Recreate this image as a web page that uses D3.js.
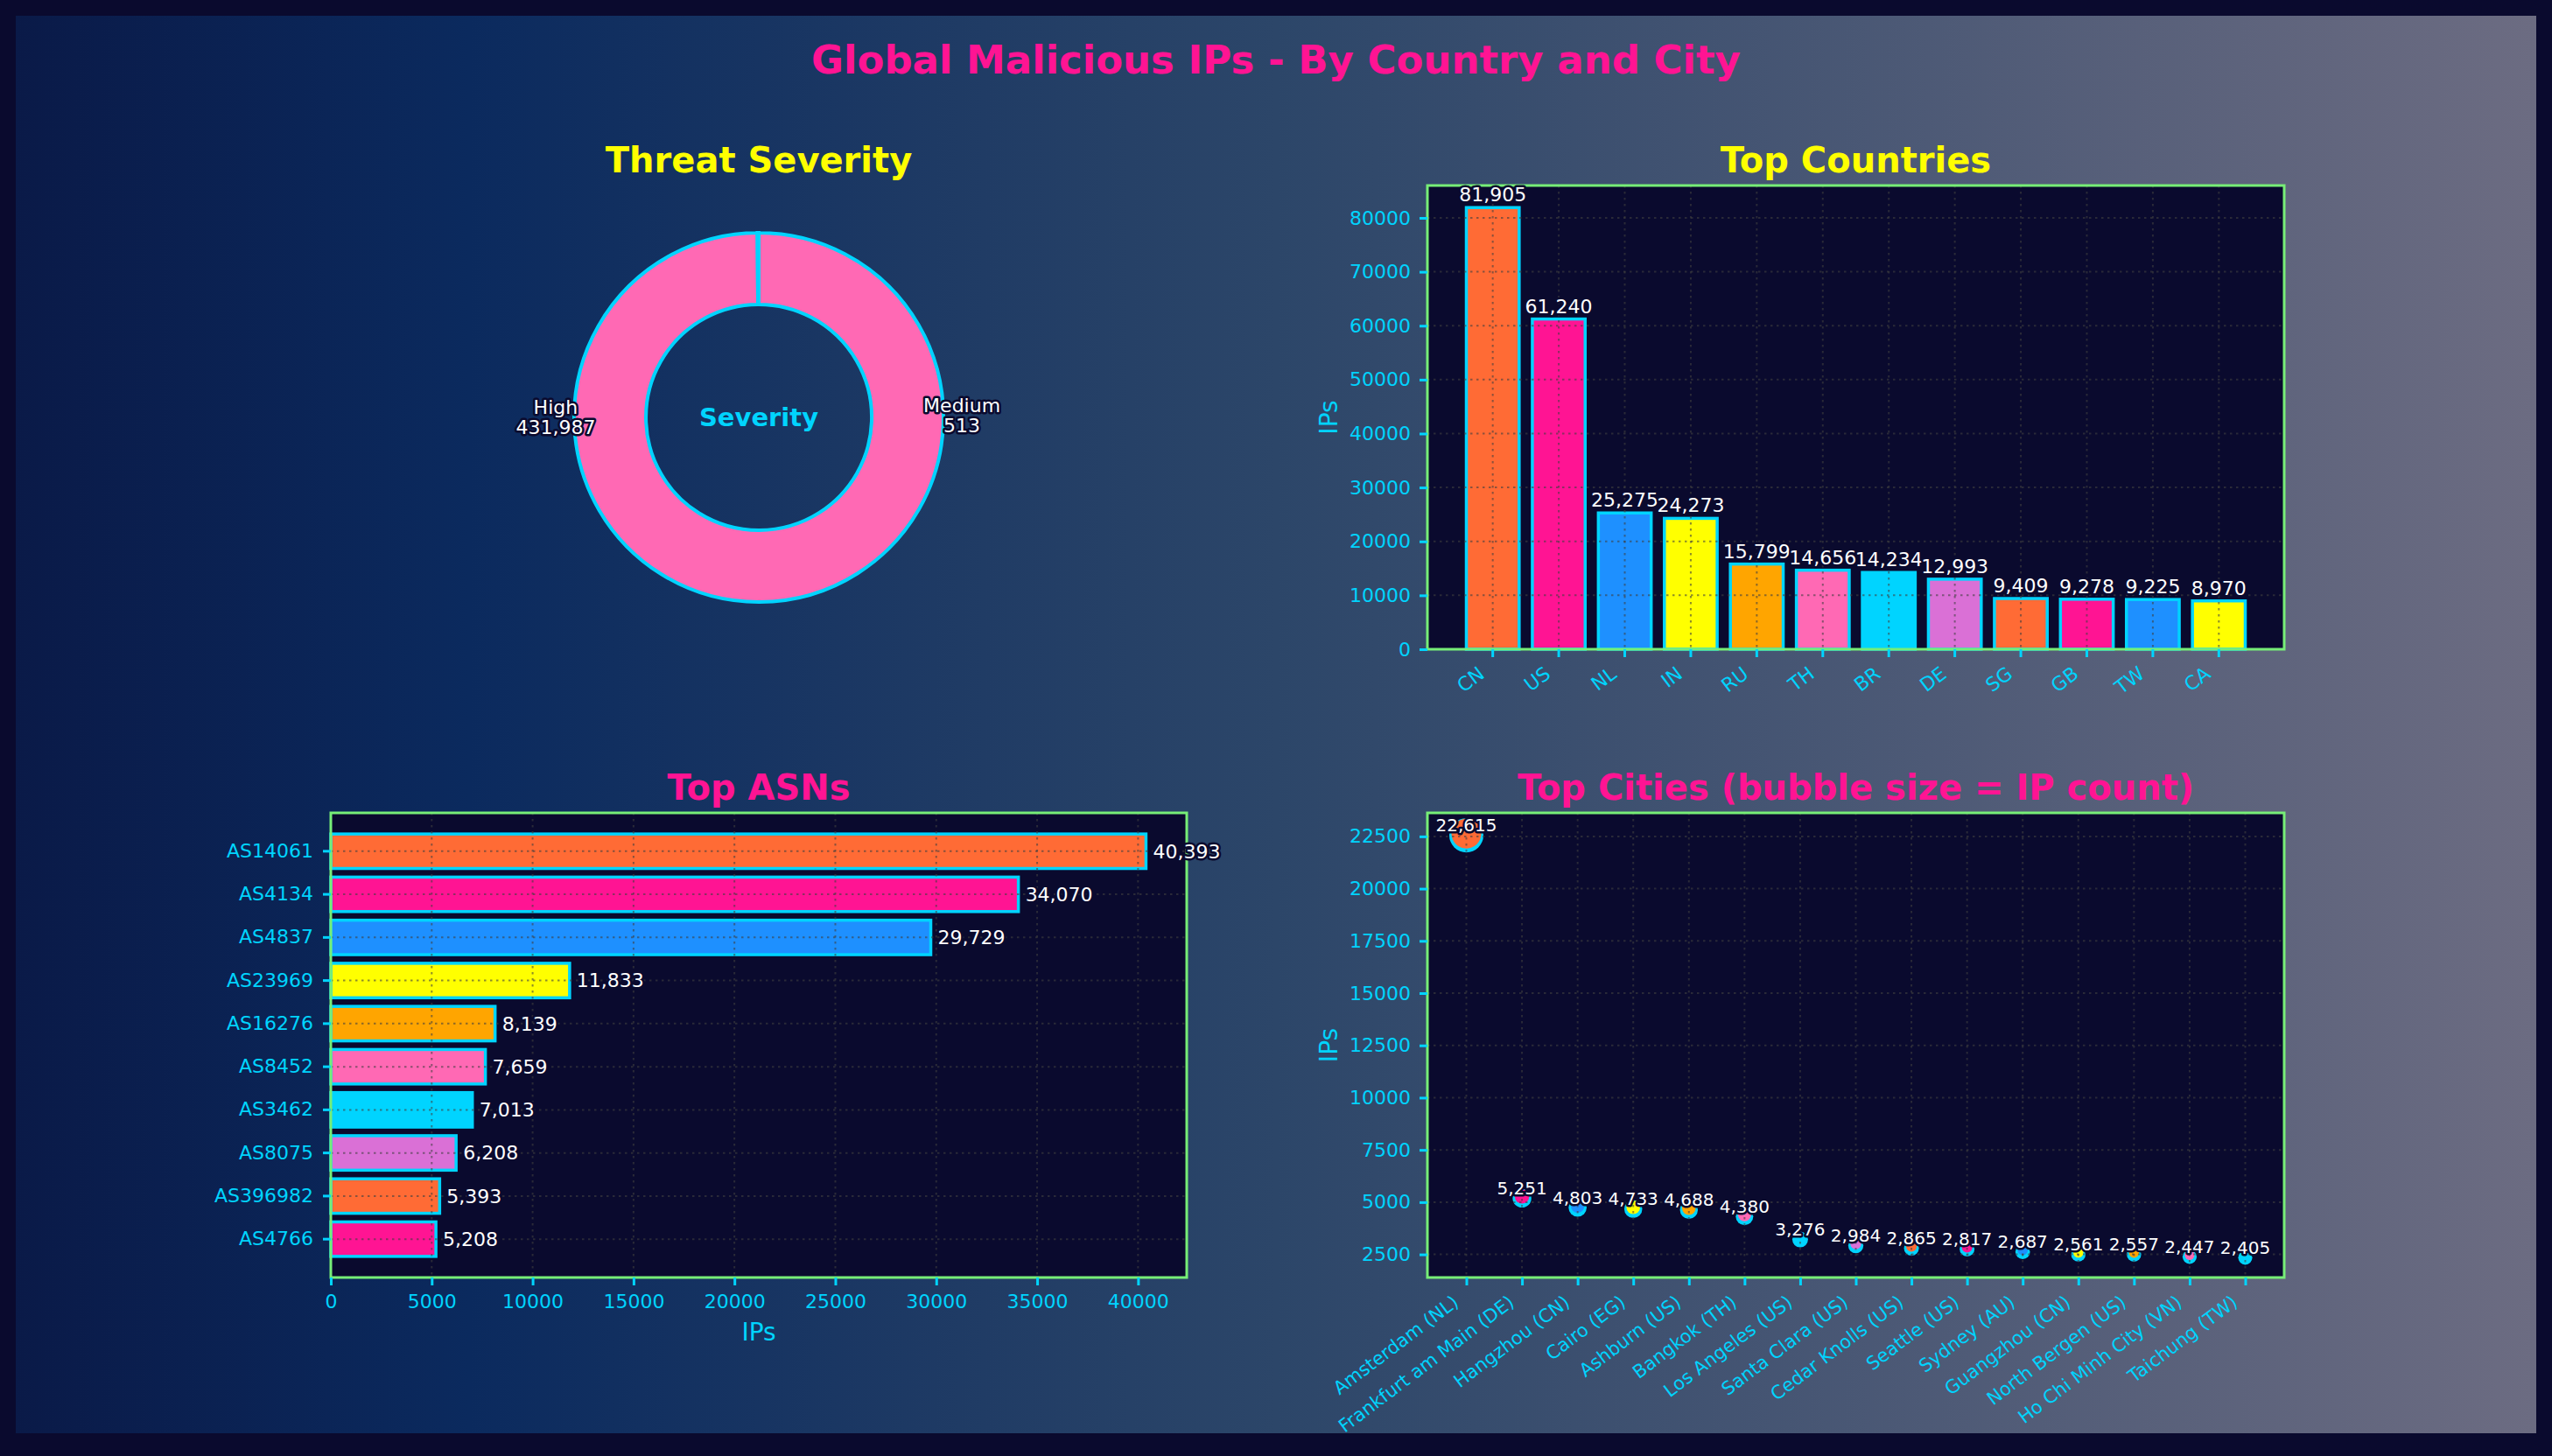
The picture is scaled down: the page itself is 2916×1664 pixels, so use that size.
<!DOCTYPE html>
<html>
<head>
<meta charset="utf-8">
<script src="https://cdn.jsdelivr.net/npm/d3@7"></script>
<style>
  body { margin: 0; background: #0a0a2e; }
  svg { display: block; }
</style>
</head>
<body>
<svg id="chart" width="2916" height="1664"></svg>
<script>
// ---- data ----
var severityLabels = ["High", "Medium"];
var severityValues = [431987, 513];
var severityColors = ["#ff69b4", "#ffa500"];

var countries = ["CN", "US", "NL", "IN", "RU", "TH", "BR", "DE", "SG", "GB", "TW", "CA"];
var countryIPs = [81905, 61240, 25275, 24273, 15799, 14656, 14234, 12993, 9409, 9278, 9225, 8970];
var countryTicks = [0, 10000, 20000, 30000, 40000, 50000, 60000, 70000, 80000];

var asns = ["AS14061", "AS4134", "AS4837", "AS23969", "AS16276", "AS8452", "AS3462", "AS8075", "AS396982", "AS4766"];
var asnIPs = [40393, 34070, 29729, 11833, 8139, 7659, 7013, 6208, 5393, 5208];
var asnTicks = [0, 5000, 10000, 15000, 20000, 25000, 30000, 35000, 40000];

var cities = ["Amsterdam (NL)", "Frankfurt am Main (DE)", "Hangzhou (CN)", "Cairo (EG)", "Ashburn (US)",
  "Bangkok (TH)", "Los Angeles (US)", "Santa Clara (US)", "Cedar Knolls (US)", "Seattle (US)",
  "Sydney (AU)", "Guangzhou (CN)", "North Bergen (US)", "Ho Chi Minh City (VN)", "Taichung (TW)"];
var cityIPs = [22615, 5251, 4803, 4733, 4688, 4380, 3276, 2984, 2865, 2817, 2687, 2561, 2557, 2447, 2405];
var cityTicks = [2500, 5000, 7500, 10000, 12500, 15000, 17500, 20000, 22500];

var palette = ["#ff6b35", "#ff1493", "#1e90ff", "#ffff00", "#ffa500", "#ff69b4", "#00d4ff", "#da70d6"];

// ---- look ----
var W = 2916, H = 1664;
var font = "DejaVu Sans";
var cyan = "#00d4ff", pink = "#ff1493", yellow = "#ffff00";
var axBg = "#0a0a2e", frameCol = "#77ee77", outline = "#0a0a2e";

// plot areas (two columns, two rows)
var L0 = 378, L1 = 1356, R0 = 1631, R1 = 2610;
var TT = 212, TB = 742, BT = 929, BB = 1460;

var svg = d3.select("#chart");
var defs = svg.append("defs");
var grad = defs.append("linearGradient").attr("id", "bg")
  .attr("x1", "0%").attr("x2", "100%").attr("y1", "0%").attr("y2", "0%");
[["0%", "#0a1a48"], ["18%", "#0b2a5e"], ["50%", "#2c4669"], ["100%", "#6c6c82"]].forEach(function(s) {
  grad.append("stop").attr("offset", s[0]).attr("stop-color", s[1]);
});

svg.append("rect").attr("width", W).attr("height", H).attr("fill", "#0a0a2e");
svg.append("rect").attr("x", 18).attr("y", 18).attr("width", W - 36).attr("height", 1620).attr("fill", "url(#bg)");

svg.append("text")
  .attr("x", W / 2).attr("y", 84)
  .attr("text-anchor", "middle")
  .attr("font-family", font).attr("font-weight", "bold").attr("font-size", 45)
  .attr("fill", pink)
  .text("Global Malicious IPs - By Country and City");

function title(x, y, txt, col) {
  svg.append("text")
    .attr("x", x).attr("y", y)
    .attr("text-anchor", "middle")
    .attr("font-family", font).attr("font-weight", "bold").attr("font-size", 40)
    .attr("fill", col)
    .text(txt);
}

function styleAxis(g) {
  g.select(".domain").remove();
  g.selectAll(".tick line").attr("stroke", cyan).attr("stroke-width", 3);
  g.selectAll(".tick text").attr("fill", cyan).attr("font-size", 22).attr("font-family", font);
}

function panelBg(x0, y0, x1, y1) {
  svg.append("rect").attr("x", x0).attr("y", y0).attr("width", x1 - x0).attr("height", y1 - y0).attr("fill", axBg);
}
function panelFrame(x0, y0, x1, y1) {
  svg.append("rect").attr("x", x0).attr("y", y0).attr("width", x1 - x0).attr("height", y1 - y0)
    .attr("fill", "none").attr("stroke", frameCol).attr("stroke-width", 3);
}
function grid(xs, ys, x0, y0, x1, y1) {
  var g = svg.append("g")
    .attr("stroke", "#404040").attr("stroke-opacity", 0.6)
    .attr("stroke-width", 2).attr("stroke-dasharray", "2.5,4.5");
  xs.forEach(function(x) { g.append("line").attr("x1", x).attr("x2", x).attr("y1", y0).attr("y2", y1); });
  ys.forEach(function(y) { g.append("line").attr("x1", x0).attr("x2", x1).attr("y1", y).attr("y2", y); });
}
function valueText(g) {
  return g.attr("font-family", font).attr("fill", "#ffffff")
    .attr("stroke", outline).attr("stroke-width", 5).attr("paint-order", "stroke")
    .attr("stroke-linejoin", "round");
}
function yLabel(x, y0, y1) {
  svg.append("text")
    .attr("transform", "translate(" + x + "," + ((y0 + y1) / 2) + ") rotate(-90)")
    .attr("text-anchor", "middle")
    .attr("font-family", font).attr("font-size", 28).attr("fill", cyan)
    .text("IPs");
}
function rotateXLabels(g, size) {
  g.selectAll(".tick text")
    .attr("x", -10).attr("y", 0).attr("dy", null)
    .attr("font-size", size)
    .attr("text-anchor", "end")
    .attr("transform", "translate(0,25) rotate(-37)");
}

// ---- Threat Severity donut ----
var cx = (L0 + L1) / 2, cy = (TT + TB) / 2;
var rOut = 211, rIn = 129;
title(cx, 197, "Threat Severity", yellow);

var pie = d3.pie().sort(null).startAngle(0).endAngle(2 * Math.PI);
var arcs = pie(severityValues);
var arc = d3.arc().innerRadius(rIn).outerRadius(rOut);
var donut = svg.append("g").attr("transform", "translate(" + cx + "," + cy + ")");
donut.selectAll("path").data(arcs).join("path")
  .attr("d", arc)
  .attr("fill", function(d, i) { return severityColors[i]; })
  .attr("stroke", cyan).attr("stroke-width", 4);

donut.append("text")
  .attr("text-anchor", "middle").attr("dy", "0.35em")
  .attr("font-family", font).attr("font-weight", "bold").attr("font-size", 29)
  .attr("fill", cyan)
  .text("Severity");

var sevLab = donut.selectAll("text.sev").data(arcs).join("text")
  .attr("class", "sev")
  .attr("text-anchor", "middle")
  .attr("font-size", 22)
  .attr("transform", function(d) {
    var a = (d.startAngle + d.endAngle) / 2 + Math.PI / 2;
    return "translate(" + (Math.sin(a) * rOut * 1.1) + "," + (-Math.cos(a) * rOut * 1.1) + ")";
  });
valueText(sevLab);
sevLab.append("tspan").attr("x", 0).attr("y", -5).text(function(d, i) { return severityLabels[i]; });
sevLab.append("tspan").attr("x", 0).attr("y", 18).text(function(d) { return d3.format(",")(d.value); });

// ---- Top Countries ----
title((R0 + R1) / 2, 197, "Top Countries", yellow);
panelBg(R0, TT, R1, TB);
var xC = d3.scaleBand().domain(countries).range([R0, R1]).paddingInner(0.2).paddingOuter(0.59);
var yC = d3.scaleLinear().domain([0, d3.max(countryIPs) * 1.05]).range([TB, TT]);

svg.append("g").selectAll("rect").data(countryIPs).join("rect")
  .attr("x", function(d, i) { return xC(countries[i]); })
  .attr("width", xC.bandwidth())
  .attr("y", function(d) { return yC(d); })
  .attr("height", function(d) { return TB - yC(d); })
  .attr("fill", function(d, i) { return palette[i % palette.length]; })
  .attr("stroke", cyan).attr("stroke-width", 3.5);

grid(countries.map(function(c) { return xC(c) + xC.bandwidth() / 2; }), countryTicks.map(yC), R0, TT, R1, TB);
panelFrame(R0, TT, R1, TB);

var gxC = svg.append("g").attr("transform", "translate(0," + TB + ")")
  .call(d3.axisBottom(xC).tickSize(9).tickPadding(10));
styleAxis(gxC);
rotateXLabels(gxC, 22);
var gyC = svg.append("g").attr("transform", "translate(" + R0 + ",0)")
  .call(d3.axisLeft(yC).tickValues(countryTicks).tickFormat(d3.format("d")).tickSize(9).tickPadding(10));
styleAxis(gyC);
yLabel(1528, TT, TB);

valueText(svg.append("g").selectAll("text").data(countryIPs).join("text")
  .attr("x", function(d, i) { return xC(countries[i]) + xC.bandwidth() / 2; })
  .attr("y", function(d) { return yC(d) - 7; })
  .attr("text-anchor", "middle").attr("font-size", 22)
  .text(function(d) { return d3.format(",")(d); }));

// ---- Top ASNs ----
title((L0 + L1) / 2, 914, "Top ASNs", pink);
panelBg(L0, BT, L1, BB);
var yA = d3.scaleBand().domain(asns).range([BT, BB]).paddingInner(0.2).paddingOuter(0.49);
var xA = d3.scaleLinear().domain([0, d3.max(asnIPs) * 1.05]).range([L0, L1]);

svg.append("g").selectAll("rect").data(asnIPs).join("rect")
  .attr("x", L0)
  .attr("y", function(d, i) { return yA(asns[i]); })
  .attr("height", yA.bandwidth())
  .attr("width", function(d) { return xA(d) - L0; })
  .attr("fill", function(d, i) { return palette[i % palette.length]; })
  .attr("stroke", cyan).attr("stroke-width", 3.5);

grid(asnTicks.map(xA), asns.map(function(a) { return yA(a) + yA.bandwidth() / 2; }), L0, BT, L1, BB);
panelFrame(L0, BT, L1, BB);

var gxA = svg.append("g").attr("transform", "translate(0," + BB + ")")
  .call(d3.axisBottom(xA).tickValues(asnTicks).tickFormat(d3.format("d")).tickSize(9).tickPadding(10));
styleAxis(gxA);
var gyA = svg.append("g").attr("transform", "translate(" + L0 + ",0)")
  .call(d3.axisLeft(yA).tickSize(9).tickPadding(11));
styleAxis(gyA);
svg.append("text")
  .attr("x", (L0 + L1) / 2).attr("y", 1532)
  .attr("text-anchor", "middle")
  .attr("font-family", font).attr("font-size", 28).attr("fill", cyan)
  .text("IPs");

valueText(svg.append("g").selectAll("text").data(asnIPs).join("text")
  .attr("x", function(d) { return xA(d) + 8; })
  .attr("y", function(d, i) { return yA(asns[i]) + yA.bandwidth() / 2; })
  .attr("dy", "0.35em").attr("font-size", 22)
  .text(function(d) { return d3.format(",")(d); }));

// ---- Top Cities bubbles ----
title((R0 + R1) / 2, 914, "Top Cities (bubble size = IP count)", pink);
panelBg(R0, BT, R1, BB);
var xP = d3.scalePoint().domain(cities).range([R0, R1]).padding(0.7);
var ext = d3.extent(cityIPs), pad = (ext[1] - ext[0]) * 0.05;
var yP = d3.scaleLinear().domain([ext[0] - pad, ext[1] + pad]).range([BB, BT]);
var rP = d3.scaleSqrt().domain([0, d3.max(cityIPs)]).range([0, 17]);

var bub = svg.append("g");
bub.selectAll("circle.glow").data(cityIPs).join("circle")
  .attr("class", "glow")
  .attr("cx", function(d, i) { return xP(cities[i]); })
  .attr("cy", function(d) { return yP(d) + 1.5; })
  .attr("r", function(d) { return rP(d) + 2.5; })
  .attr("fill", cyan);
bub.selectAll("circle.dot").data(cityIPs).join("circle")
  .attr("class", "dot")
  .attr("cx", function(d, i) { return xP(cities[i]); })
  .attr("cy", function(d) { return yP(d) - 0.5; })
  .attr("r", function(d) { return rP(d); })
  .attr("fill", function(d, i) { return palette[i % palette.length]; });

grid(cities.map(xP), cityTicks.map(yP), R0, BT, R1, BB);
panelFrame(R0, BT, R1, BB);

var gxP = svg.append("g").attr("transform", "translate(0," + BB + ")")
  .call(d3.axisBottom(xP).tickSize(9).tickPadding(10));
styleAxis(gxP);
rotateXLabels(gxP, 21);
var gyP = svg.append("g").attr("transform", "translate(" + R0 + ",0)")
  .call(d3.axisLeft(yP).tickValues(cityTicks).tickFormat(d3.format("d")).tickSize(9).tickPadding(10));
styleAxis(gyP);
yLabel(1528, BT, BB);

valueText(svg.append("g").selectAll("text").data(cityIPs).join("text")
  .attr("x", function(d, i) { return xP(cities[i]); })
  .attr("y", function(d) { return yP(d) - 3; })
  .attr("text-anchor", "middle").attr("font-size", 20)
  .text(function(d) { return d3.format(",")(d); }));
</script>
</body>
</html>
